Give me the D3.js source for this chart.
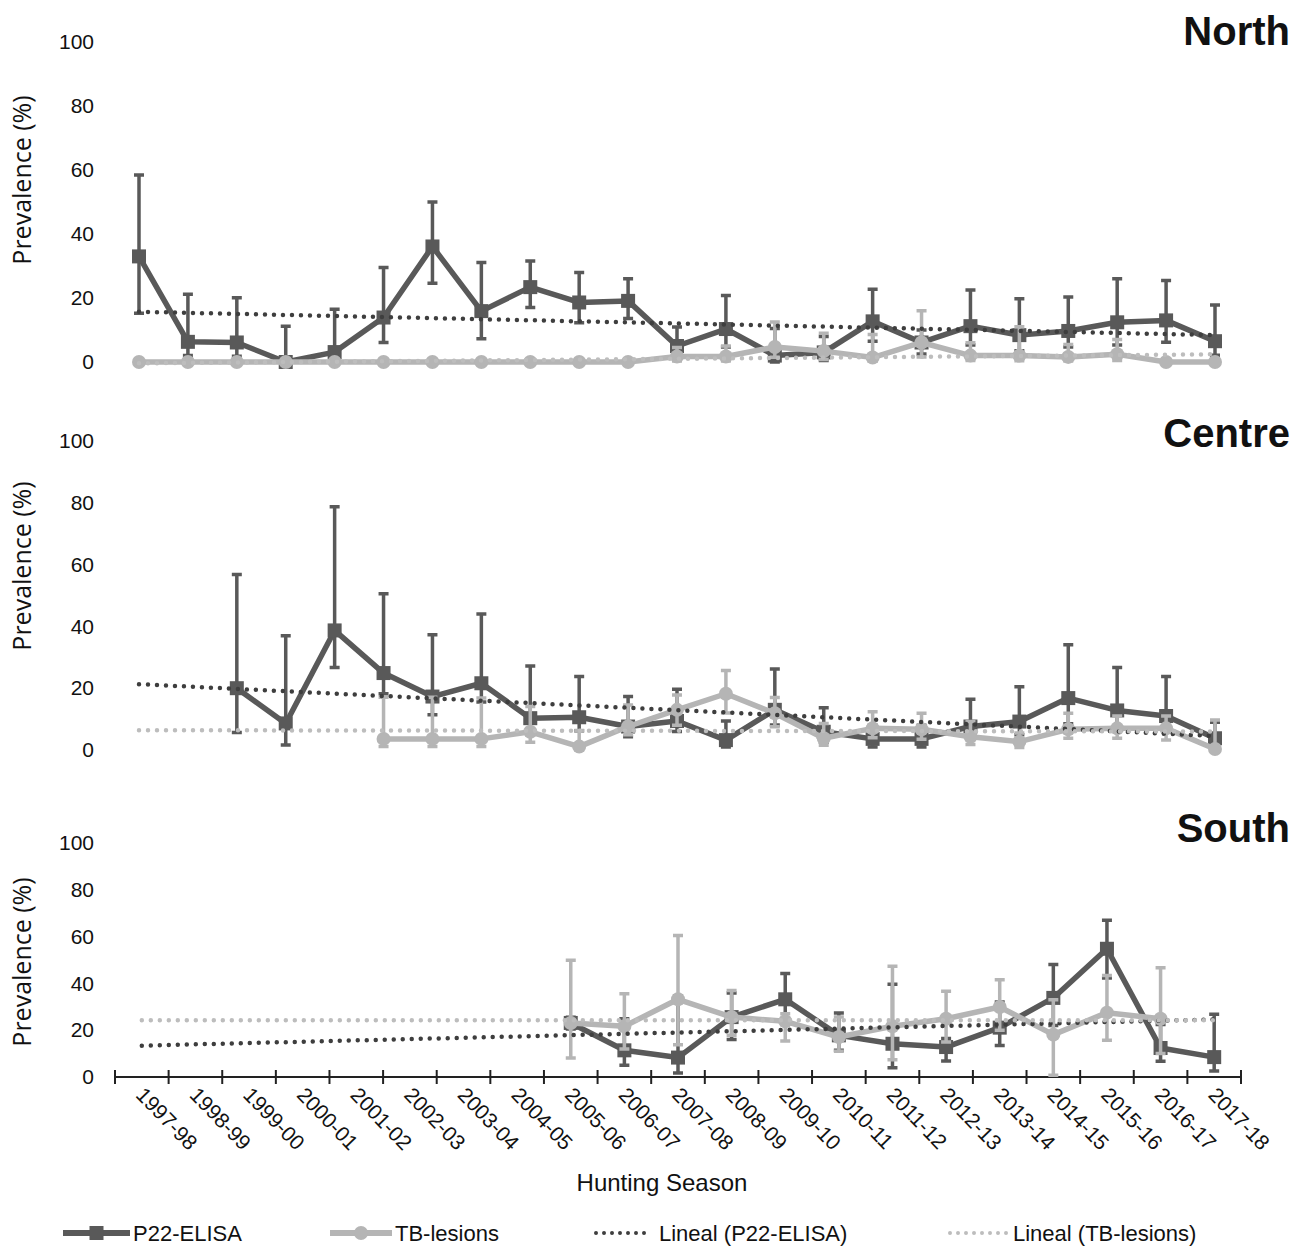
<!DOCTYPE html>
<html>
<head>
<meta charset="utf-8">
<script src="https://cdn.jsdelivr.net/npm/d3@7"></script>
<style>
  body { margin: 0; background: #fff; }
  text { font-family: "Liberation Sans", Arial, sans-serif; fill: #111; }
</style>
</head>
<body>
<div id="chart"></div>
<script>
// hunting seasons shown on the South axis
const seasons = ["1997-98", "1998-99", "1999-00", "2000-01", "2001-02", "2002-03", "2003-04",
  "2004-05", "2005-06", "2006-07", "2007-08", "2008-09", "2009-10", "2010-11", "2011-12",
  "2012-13", "2013-14", "2014-15", "2015-16", "2016-17", "2017-18"]
// North and Centre charts have their own (hidden) category axis with 23 slots
const seasonsNC = ["1995-96", "1996-97"].concat(seasons)

// North
const northP22 = [33.0, 6.3, 6.1, 0, 3.1, 13.9, 36.1, 15.9, 23.4, 18.6, 19.1, 5.0, 10.3, 2.0, 3.0, 12.7, 6.1, 11.2, 8.4, 9.7, 12.4, 13.0, 6.5]
const northP22Hi = [58.4, 21.2, 20.1, 11.2, 16.5, 29.5, 50.0, 31.1, 31.6, 28.0, 26.0, 10.9, 20.8, 10.5, 8.0, 22.7, 10.0, 22.5, 19.8, 20.3, 26.0, 25.5, 17.8]
const northP22Lo = [15.2, 2.0, 1.8, 0, 0, 6.1, 24.6, 7.3, 17.0, 12.3, 13.6, 1.0, 4.7, 0, 0.5, 6.5, 2.5, 5.3, 3.5, 4.7, 5.3, 6.2, 2.1]
const northTB = [0, 0, 0, 0, 0, 0, 0, 0, 0, 0, 0, 1.7, 1.7, 4.7, 3.4, 1.4, 6.1, 2.0, 2.0, 1.6, 2.4, 0, 0]
const northTBHi = [null, null, null, null, null, null, null, null, null, null, null, 4.5, 5.0, 12.5, 9.0, 8.6, 16.0, 6.0, 11.0, 5.5, 7.0, null, null]
const northTBLo = [null, null, null, null, null, null, null, null, null, null, null, 0.3, 0.3, 1.5, 0.8, 0.2, 1.6, 0.5, 0.4, 0.3, 0.5, null, null]
const northTrendP22 = [15.7, 8.4]
const northTrendTB = [-0.4, 2.4]

// Centre
const centreP22 = [null, null, 20.0, 8.6, 38.7, 24.9, 17.3, 21.6, 10.3, 10.6, 7.6, 9.4, 3.2, 13.0, 5.9, 3.6, 3.6, 7.6, 9.2, 16.8, 12.8, 11.0, 3.8]
const centreP22Hi = [null, null, 56.8, 37.0, 78.7, 50.6, 37.3, 44.0, 27.2, 23.8, 17.3, 19.7, 9.4, 26.2, 13.7, 8.0, 8.0, 16.4, 20.5, 34.1, 26.7, 23.8, 9.0]
const centreP22Lo = [null, null, 5.7, 1.6, 26.7, 18.2, 11.4, 15.5, 5.0, 6.2, 4.3, 6.0, 1.0, 8.1, 2.5, 1.0, 1.0, 3.5, 4.9, 8.5, 7.5, 6.0, 1.0]
const centreTB = [null, null, null, null, null, 3.6, 3.6, 3.6, 5.9, 1.1, 7.6, 13.0, 18.2, 11.9, 3.8, 7.0, 6.7, 4.3, 2.7, 6.7, 7.0, 7.0, 0.3]
const centreTBHi = [null, null, null, null, null, 17.1, 17.1, 16.8, 14.1, 6.3, 14.6, 17.8, 25.7, 17.0, 8.6, 12.4, 11.9, 9.2, 5.5, 11.9, 11.0, 11.0, 9.7]
const centreTBLo = [null, null, null, null, null, 1.1, 1.1, 1.1, 2.5, 0.1, 4.9, 8.0, 12.0, 7.5, 1.5, 4.0, 3.5, 1.8, 0.8, 3.8, 3.8, 3.2, 0]
const centreTrendP22 = [21.3, 4.5]
const centreTrendTB = [6.4, 6.0]

// South
const southP22 = [null, null, null, null, null, null, null, null, 23.1, 11.4, 8.3, 25.6, 33.2, 17.8, 14.2, 12.8, 21.1, 33.8, 54.8, 12.4, 8.5]
const southP22Hi = [null, null, null, null, null, null, null, null, 25.5, 24.9, 34.6, 35.9, 44.2, 27.4, 39.6, 16.5, 32.0, 48.1, 67.0, 22.4, 26.8]
const southP22Lo = [null, null, null, null, null, null, null, null, 20.5, 5.0, 1.7, 16.0, 22.8, 11.4, 4.0, 6.8, 13.5, 22.0, 42.3, 6.7, 2.6]
const southTB = [null, null, null, null, null, null, null, null, 23.1, 21.7, 33.2, 25.6, 23.8, 17.1, 21.7, 24.9, 29.9, 18.1, 27.5, 24.9, null]
const southTBHi = [null, null, null, null, null, null, null, null, 49.9, 35.6, 60.5, 37.0, 27.0, 25.6, 47.3, 36.6, 41.6, 33.0, 43.4, 46.7, null]
const southTBLo = [null, null, null, null, null, null, null, null, 8.1, 12.0, 13.8, 17.8, 15.4, 11.0, 7.4, 15.0, 20.0, 0.7, 15.7, 10.0, null]
const southTrendP22 = [13.4, 24.6]
const southTrendTB = [24.3, 24.3]

const yTicks = [0, 20, 40, 60, 80, 100]
const legendLabels = ["P22-ELISA", "TB-lesions", "Lineal (P22-ELISA)", "Lineal (TB-lesions)"]

var colP22 = "#595959"
var colTB = "#b5b5b5"
var colTrendDark = "#3e3e3e"
var colTrendLight = "#bdbdbd"

var svg = d3.select("#chart").append("svg")
  .attr("width", 1304)
  .attr("height", 1247)

var xNC = d3.scalePoint().domain(seasonsNC).range([139, 1215])
var xS = d3.scaleBand().domain(seasons).range([115, 1241])

var panels = [
  { title: "North", x: xNC, cats: seasonsNC, y0: 362, y100: 42, titleY: 45, labelY: 180,
    p22: northP22, p22Hi: northP22Hi, p22Lo: northP22Lo, tb: northTB, tbHi: northTBHi, tbLo: northTBLo,
    trendP22: northTrendP22, trendTB: northTrendTB },
  { title: "Centre", x: xNC, cats: seasonsNC, y0: 750, y100: 441, titleY: 447, labelY: 566,
    p22: centreP22, p22Hi: centreP22Hi, p22Lo: centreP22Lo, tb: centreTB, tbHi: centreTBHi, tbLo: centreTBLo,
    trendP22: centreTrendP22, trendTB: centreTrendTB },
  { title: "South", x: xS, cats: seasons, y0: 1077, y100: 843, titleY: 842, labelY: 962,
    p22: southP22, p22Hi: southP22Hi, p22Lo: southP22Lo, tb: southTB, tbHi: southTBHi, tbLo: southTBLo,
    trendP22: southTrendP22, trendTB: southTrendTB, axis: true }
]

function errorBars(g, px, y, cats, hi, lo, color) {
  var d = cats.map(function (c, i) { return { c: c, hi: hi[i], lo: lo[i] } })
    .filter(function (d) { return d.hi != null })
  g.selectAll(null).data(d).enter()
    .append("path")
    .attr("d", function (d) {
      var x = px(d.c)
      return "M" + x + "," + y(d.lo) + "V" + y(d.hi) +
        "M" + (x - 5) + "," + y(d.hi) + "h10" +
        "M" + (x - 5) + "," + y(d.lo) + "h10"
    })
    .attr("fill", "none")
    .attr("stroke", color)
    .attr("stroke-width", 3.5)
}

function series(g, px, y, cats, vals, color, marker) {
  var d = cats.map(function (c, i) { return { c: c, v: vals[i] } })
  var line = d3.line()
    .defined(function (d) { return d.v != null })
    .x(function (d) { return px(d.c) })
    .y(function (d) { return y(d.v) })
  g.append("path")
    .datum(d)
    .attr("d", line)
    .attr("fill", "none")
    .attr("stroke", color)
    .attr("stroke-width", 5.5)
    .attr("stroke-linejoin", "round")
  var pts = d.filter(function (d) { return d.v != null })
  if (marker == "square") {
    g.selectAll(null).data(pts).enter().append("rect")
      .attr("x", function (d) { return px(d.c) - 7 })
      .attr("y", function (d) { return y(d.v) - 7 })
      .attr("width", 14).attr("height", 14)
      .attr("fill", color)
  } else {
    g.selectAll(null).data(pts).enter().append("circle")
      .attr("cx", function (d) { return px(d.c) })
      .attr("cy", function (d) { return y(d.v) })
      .attr("r", 7)
      .attr("fill", color)
  }
}

function trend(g, px, y, cats, ends, color) {
  var d = [{ c: cats[0], v: ends[0] }, { c: cats[cats.length - 1], v: ends[1] }]
  g.append("path")
    .datum(d)
    .attr("d", d3.line().x(function (d) { return px(d.c) }).y(function (d) { return y(d.v) }))
    .attr("stroke", color)
    .attr("stroke-width", 4.5)
    .attr("stroke-linecap", "round")
    .attr("stroke-dasharray", "0,9")
    .attr("fill", "none")
}

panels.forEach(function (p) {
  var g = svg.append("g")
  var x = p.x
  var px = function (c) { return x(c) + x.bandwidth() / 2 }
  var y = d3.scaleLinear().domain([0, 100]).range([p.y0, p.y100])

  // y tick labels only (no axis line)
  var ya = g.append("g")
    .attr("transform", "translate(94,0)")
    .call(d3.axisLeft(y).tickValues(yTicks).tickSize(0).tickPadding(0))
  ya.select(".domain").remove()
  ya.selectAll("text")
    .style("font-family", "'Liberation Sans', Arial, sans-serif")
    .style("font-size", "21px")
    .attr("fill", "#111")

  g.append("text")
    .attr("transform", "translate(31," + p.labelY + ") rotate(-90)")
    .attr("text-anchor", "middle")
    .style("font-family", "'Open Sans', sans-serif")
    .style("font-size", "25px")
    .text("Prevalence (%)")

  g.append("text")
    .attr("x", 1290)
    .attr("y", p.titleY)
    .attr("text-anchor", "end")
    .style("font-size", "40px")
    .style("font-weight", "bold")
    .attr("fill", "#000")
    .text(p.title)

  if (p.axis) {
    var xa = g.append("g")
      .attr("transform", "translate(0," + p.y0 + ")")
    xa.append("line")
      .attr("x1", x.range()[0]).attr("x2", x.range()[1])
      .attr("stroke", "#222").attr("stroke-width", 2)
    var edges = seasons.map(function (c) { return x(c) }).concat([x.range()[1]])
    xa.selectAll(null).data(edges).enter().append("line")
      .attr("x1", function (d) { return d }).attr("x2", function (d) { return d })
      .attr("y1", -7).attr("y2", 7)
      .attr("stroke", "#222").attr("stroke-width", 2)
    xa.selectAll(null).data(seasons).enter().append("text")
      .attr("transform", function (d) { return "translate(" + (px(d) - 7) + ",19) rotate(46)" })
      .attr("text-anchor", "start")
      .style("font-size", "21px")
      .text(function (d) { return d })
  }

  errorBars(g, px, y, p.cats, p.p22Hi, p.p22Lo, colP22)
  series(g, px, y, p.cats, p.p22, colP22, "square")
  errorBars(g, px, y, p.cats, p.tbHi, p.tbLo, colTB)
  series(g, px, y, p.cats, p.tb, colTB, "circle")
  trend(g, px, y, p.cats, p.trendP22, colTrendDark)
  trend(g, px, y, p.cats, p.trendTB, colTrendLight)
})

svg.append("text")
  .attr("x", 662)
  .attr("y", 1191)
  .attr("text-anchor", "middle")
  .style("font-size", "24px")
  .text("Hunting Season")

// legend
var legY = 1233
var leg = svg.append("g")
var legItems = [
  { x1: 63, x2: 130, tx: 133, color: colP22, kind: "square" },
  { x1: 330, x2: 392, tx: 395, color: colTB, kind: "circle" },
  { x1: 596, x2: 652, tx: 659, color: colTrendDark, kind: "dots" },
  { x1: 950, x2: 1008, tx: 1013, color: colTrendLight, kind: "dots" }
]
legItems.forEach(function (d, i) {
  var l = leg.append("line")
    .attr("x1", d.x1).attr("x2", d.x2)
    .attr("y1", legY).attr("y2", legY)
    .attr("stroke", d.color)
  if (d.kind == "dots") {
    l.attr("stroke-width", 4).attr("stroke-linecap", "round").attr("stroke-dasharray", "0,8")
  } else {
    l.attr("stroke-width", 6)
  }
  var cx = (d.x1 + d.x2) / 2
  if (d.kind == "square") {
    leg.append("rect").attr("x", cx - 7).attr("y", legY - 7).attr("width", 14).attr("height", 14).attr("fill", d.color)
  } else if (d.kind == "circle") {
    leg.append("circle").attr("cx", cx).attr("cy", legY).attr("r", 7).attr("fill", d.color)
  }
  leg.append("text")
    .attr("x", d.tx)
    .attr("y", legY + 8)
    .style("font-size", "22px")
    .text(legendLabels[i])
})
</script>
</body>
</html>
